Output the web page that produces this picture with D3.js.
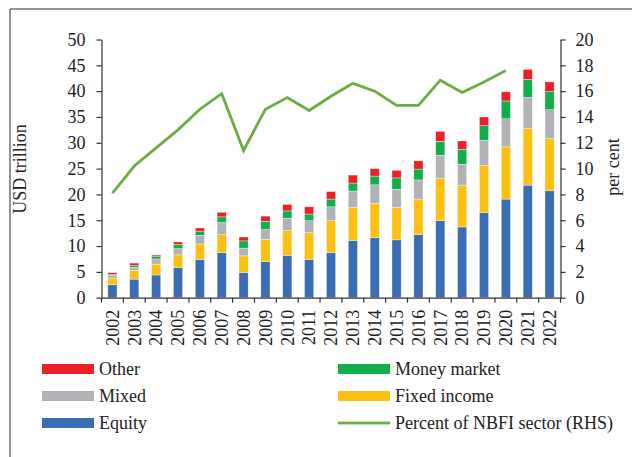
<!DOCTYPE html>
<html>
<head>
<meta charset="utf-8">
<script src="https://cdn.jsdelivr.net/npm/d3@7"></script>
<style>
  body { margin: 0; background: #fff; }
  svg text { font-family: "Liberation Serif", serif; fill: #222; }
</style>
</head>
<body>
<svg id="chart" width="632" height="457"></svg>
<script>
// dados (USD trillion, per cent)
var years = ["2002","2003","2004","2005","2006","2007","2008","2009","2010","2011","2012",
             "2013","2014","2015","2016","2017","2018","2019","2020","2021","2022"];
var equity      = [2.5, 3.6, 4.4, 5.8, 7.4, 8.7, 4.9, 7.0, 8.2, 7.4, 8.7, 11.1, 11.6, 11.2, 12.2, 14.9, 13.7, 16.5, 19.1, 21.8, 20.7];
var fixedIncome = [1.3, 1.7, 2.1, 2.5, 3.0, 3.5, 3.2, 4.3, 4.8, 5.2, 6.2, 6.4, 6.7, 6.3, 6.9, 8.2, 8.1, 9.1, 10.1, 11.0, 10.1];
var mixed       = [0.5, 0.6, 1.0, 1.2, 1.7, 2.35, 1.5, 1.9, 2.4, 2.3, 2.7, 3.15, 3.55, 3.5, 3.7, 4.5, 4.05, 4.9, 5.45, 6.0, 5.6];
var moneyMarket = [0.25, 0.35, 0.45, 0.8, 0.8, 1.1, 1.4, 1.6, 1.4, 1.3, 1.5, 1.55, 1.7, 2.2, 2.1, 2.7, 2.9, 2.8, 3.45, 3.5, 3.5];
var other       = [0.3, 0.45, 0.3, 0.5, 0.6, 0.9, 0.75, 1.0, 1.25, 1.4, 1.45, 1.55, 1.45, 1.45, 1.6, 1.9, 1.6, 1.7, 1.75, 1.9, 1.9];
var percentNBFI = [8.1, 10.2, 11.6, 13.0, 14.6, 15.8, 11.4, 14.6, 15.5, 14.5, 15.6, 16.6, 16.0, 14.9, 14.9, 16.85, 15.9, 16.7, 17.6];
var leftTicks  = [0, 5, 10, 15, 20, 25, 30, 35, 40, 45, 50];
var rightTicks = [0, 2, 4, 6, 8, 10, 12, 14, 16, 18, 20];

var seriesNames  = ["Equity", "Fixed income", "Mixed", "Money market", "Other"];
var seriesColors = ["#3b6db5", "#fdbf12", "#b0b2b5", "#13ad4b", "#ee1f26"];
var lineColor = "#6cac42";

var svg = d3.select("#chart");

// moldura cinza
svg.append("line").attr("x1", 10).attr("x2", 632).attr("y1", 9).attr("y2", 9)
  .attr("stroke", "#707070").attr("stroke-width", 1.5);
svg.append("line").attr("x1", 10).attr("x2", 10).attr("y1", 9).attr("y2", 457)
  .attr("stroke", "#707070").attr("stroke-width", 1.5);

var plotLeft = 101.5, plotRight = 560.5, plotTop = 39.5, plotBottom = 297.7;

var xScale = d3.scaleBand().domain(years).range([plotLeft, plotRight])
  .paddingInner(0.58).paddingOuter(0.29);
var yScale = d3.scaleLinear().domain([0, 50]).range([plotBottom, plotTop]);
var y2Scale = d3.scaleLinear().domain([0, 20]).range([plotBottom, plotTop]);

// tabela para o stack
var table = years.map(function(y, i) {
  return { year: y, "Equity": equity[i], "Fixed income": fixedIncome[i], "Mixed": mixed[i],
           "Money market": moneyMarket[i], "Other": other[i] };
});
var stacked = d3.stack().keys(seriesNames)(table);

svg.append("g").selectAll("g")
  .data(stacked)
  .enter()
  .append("g")
  .attr("fill", function(d, i) { return seriesColors[i]; })
  .selectAll("rect")
  .data(function(d) { return d; })
  .enter()
  .append("rect")
  .attr("x", function(d) { return xScale(d.data.year); })
  .attr("width", xScale.bandwidth())
  .attr("y", function(d) { return yScale(d[1]); })
  .attr("height", function(d) { return yScale(d[0]) - yScale(d[1]); })
  .attr("stroke", "#fff")
  .attr("stroke-width", 0.5)
  .attr("stroke-opacity", 0.7);

// linha (eixo direito)
var line = d3.line()
  .x(function(d, i) { return xScale(years[i]) + xScale.bandwidth() / 2; })
  .y(function(d) { return y2Scale(d); });
svg.append("path")
  .datum(percentNBFI)
  .attr("d", line)
  .attr("fill", "none")
  .attr("stroke", lineColor)
  .attr("stroke-width", 2.8)
  .attr("stroke-linejoin", "miter");

// eixos
function styleAxis(g) {
  g.selectAll("path, line").attr("stroke", "#333").attr("stroke-width", 1.2);
  g.selectAll("text").style("font-family", "Liberation Serif, serif").style("font-size", "18px").attr("fill", "#222");
}

var leftAxis = svg.append("g").attr("transform", "translate(" + plotLeft + ",0)")
  .call(d3.axisLeft(yScale).tickValues(leftTicks).tickSize(5).tickSizeOuter(0).tickPadding(11));
styleAxis(leftAxis);

var rightAxis = svg.append("g").attr("transform", "translate(" + plotRight + ",0)")
  .call(d3.axisRight(y2Scale).tickValues(rightTicks).tickSize(5).tickSizeOuter(0).tickPadding(10));
styleAxis(rightAxis);

var xAxis = svg.append("g").attr("transform", "translate(0," + plotBottom + ")")
  .call(d3.axisBottom(xScale).tickSize(0).tickSizeOuter(0));
styleAxis(xAxis);
xAxis.selectAll("text")
  .attr("transform", "rotate(-90)")
  .attr("text-anchor", "end")
  .attr("x", -12)
  .attr("y", 0)
  .attr("dy", "0.35em");
// marcas entre as categorias
var step = xScale.step();
xAxis.selectAll(".sep")
  .data(d3.range(years.length + 1))
  .enter()
  .append("line")
  .attr("x1", function(i) { return plotLeft + i * step; })
  .attr("x2", function(i) { return plotLeft + i * step; })
  .attr("y1", 0).attr("y2", 5)
  .attr("stroke", "#333").attr("stroke-width", 1.2);

// titulos dos eixos
svg.append("text")
  .attr("transform", "translate(26,169) rotate(-90)")
  .attr("text-anchor", "middle")
  .style("font-size", "18px")
  .text("USD trillion");
svg.append("text")
  .attr("transform", "translate(619,167) rotate(-90)")
  .attr("text-anchor", "middle")
  .style("font-size", "18px")
  .text("per cent");

// legenda
var legendItems = [
  { name: "Other", color: seriesColors[4], col: 0, row: 0, type: "bar" },
  { name: "Money market", color: seriesColors[3], col: 1, row: 0, type: "bar" },
  { name: "Mixed", color: seriesColors[2], col: 0, row: 1, type: "bar" },
  { name: "Fixed income", color: seriesColors[1], col: 1, row: 1, type: "bar" },
  { name: "Equity", color: seriesColors[0], col: 0, row: 2, type: "bar" },
  { name: "Percent of NBFI sector (RHS)", color: lineColor, col: 1, row: 2, type: "line" }
];
var colX = [42, 338];
var leg = svg.append("g").selectAll("g")
  .data(legendItems)
  .enter()
  .append("g")
  .attr("transform", function(d) { return "translate(" + colX[d.col] + "," + (369 + d.row * 27) + ")"; });
leg.append("rect")
  .attr("x", 0)
  .attr("y", function(d) { return d.type === "bar" ? -5 : -1.4; })
  .attr("width", 52)
  .attr("height", function(d) { return d.type === "bar" ? 10 : 2.8; })
  .attr("fill", function(d) { return d.color; });
leg.append("text")
  .attr("x", 57)
  .attr("dy", "0.35em")
  .style("font-size", "18px")
  .text(function(d) { return d.name; });
</script>
</body>
</html>
